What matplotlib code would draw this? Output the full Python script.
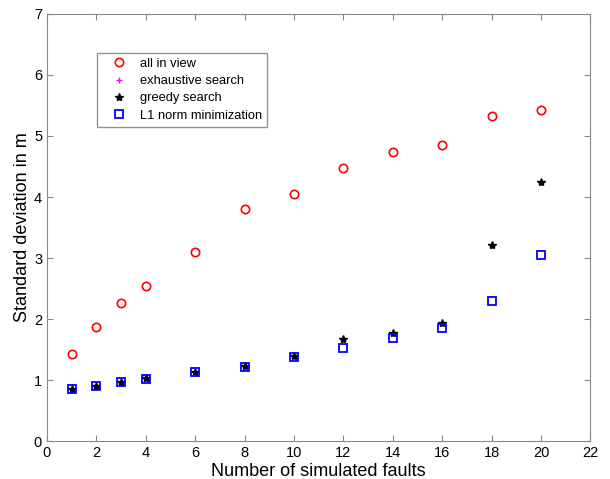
import matplotlib
matplotlib.use('Agg')
import matplotlib.pyplot as plt

faults = [1, 2, 3, 4, 6, 8, 10, 12, 14, 16, 18, 20]
all_in_view = [1.43, 1.87, 2.26, 2.54, 3.10, 3.80, 4.05, 4.47, 4.73, 4.85, 5.32, 5.42]
exhaustive = [0.85, 0.91, 0.97, 1.03, 1.14, 1.23, 1.40, 1.68, 1.78, 1.94, 3.21, 4.24]
greedy = [0.85, 0.91, 0.97, 1.03, 1.14, 1.23, 1.40, 1.68, 1.78, 1.94, 3.21, 4.24]
l1_norm = [0.85, 0.91, 0.97, 1.02, 1.14, 1.21, 1.38, 1.52, 1.69, 1.86, 2.30, 3.05]

plt.rcParams['font.family'] = ['Liberation Sans', 'DejaVu Sans']

fig = plt.figure(figsize=(6.1, 4.79), dpi=100)
ax = fig.add_axes([0.077, 0.079, 0.891, 0.892])

ax.plot(faults, all_in_view, 'o', ls='none', mfc='none', mec='red', mew=1.2, ms=6, label='all in view')
ax.plot(faults, exhaustive, '+', ls='none', color='magenta', mew=1.0, ms=5, label='exhaustive search')
ax.plot(faults, greedy, '*', ls='none', color='black', mew=1.0, ms=6, label='greedy search')
ax.plot(faults, l1_norm, 's', ls='none', mfc='none', mec='blue', mew=1.3, ms=5.5, label='L1 norm minimization')

ax.set_xlim(0, 22)
ax.set_ylim(0, 7)
ax.set_xticks(range(0, 23, 2))
ax.set_yticks(range(0, 8))
ax.tick_params(direction='in', top=True, right=True, labelsize=10.5, length=4, color='#888888')
for s in ax.spines.values():
    s.set_color('#888888')

ax.set_xlabel('Number of simulated faults', fontsize=13, labelpad=2)
ax.set_ylabel('Standard deviation in m', fontsize=13, labelpad=2)

leg = ax.legend(loc='upper left', bbox_to_anchor=(0.092, 0.909), borderaxespad=0,
                fontsize=9.3, frameon=True, fancybox=False, edgecolor='#777777',
                handlelength=2.6, handletextpad=0.3, borderpad=0.4, labelspacing=0.4)
leg.get_frame().set_linewidth(1.0)

fig.savefig('out.png', dpi=100)
